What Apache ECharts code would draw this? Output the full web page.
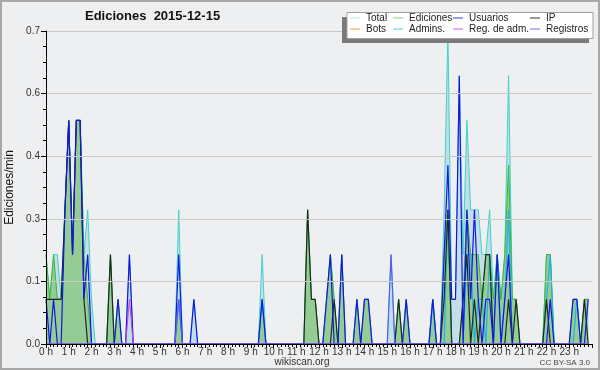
<!DOCTYPE html>
<html>
<head>
<meta charset="utf-8">
<script src="https://cdn.jsdelivr.net/npm/echarts@6/dist/echarts.min.js"></script>
<style>
html,body{margin:0;padding:0;background:#eeeff1;}
#c{width:600px;height:370px;}
</style>
</head>
<body>
<div id="c"></div>
<script>
// 10-minute buckets, 144 per day (edits per minute)
const total = [
 .2,.1,.2,.2,.1,.3,.5,.2,.5,.5,.2,.3,
 .1,0,0,0,0,.2,0,.1,0,0,.2,0,
 0,0,0,0,0,0,0,0,0,0,0,.3,
 0,0,0,.1,0,0,0,0,0,0,0,0,
 0,0,0,0,0,0,0,0,0,.2,0,0,
 0,0,0,0,0,0,0,0,0,.3,.1,.1,
 0,0,.1,.2,.1,0,.2,0,0,0,.1,0,
 .1,.1,0,0,0,0,0,.2,0,.1,0,.1,
 0,0,0,0,0,0,.1,0,0,.3,.7,.1,
 .1,.6,.2,.5,.3,.3,.3,.2,.2,.3,.1,.2,
 .1,.2,.6,.1,.1,0,0,0,0,0,0,0,
 .2,.2,0,0,0,0,0,.1,.1,0,.1,.1];
const ediciones = [
 .2,.1,.2,.1,.1,.3,.5,.2,.5,.5,.2,.1,
 0,0,0,0,0,.2,0,.1,0,0,0,0,
 0,0,0,0,0,0,0,0,0,0,0,.1,
 0,0,0,0,0,0,0,0,0,0,0,0,
 0,0,0,0,0,0,0,0,0,.1,0,0,
 0,0,0,0,0,0,0,0,0,.3,.1,.1,
 0,0,.1,.2,.1,0,.2,0,0,0,.1,0,
 .1,.1,0,0,0,0,0,0,0,.1,0,.1,
 0,0,0,0,0,0,.1,0,0,.2,.3,0,
 0,0,.1,.3,.2,.2,.2,.1,.2,.2,.1,.2,
 .1,.2,.4,.1,.1,0,0,0,0,0,0,0,
 .2,.2,0,0,0,0,0,.1,.1,0,.1,.1];
const usuarios = [
 .1,0,.1,0,0,.3,.5,.2,.5,.5,.1,.2,
 0,0,0,0,0,0,0,.1,0,0,.2,0,
 0,0,0,0,0,0,0,0,0,0,0,.2,
 0,0,0,.1,0,0,0,0,0,0,0,0,
 0,0,0,0,0,0,0,0,0,.1,0,0,
 0,0,0,0,0,0,0,0,0,0,0,0,
 0,0,.1,.2,0,0,.2,0,0,0,.1,0,
 .1,.1,0,0,0,0,0,0,0,0,0,.1,
 0,0,0,0,0,0,.1,0,0,.2,.4,.1,
 .1,.6,0,.3,.1,.3,.1,0,.1,.1,0,.2,
 0,.1,.2,0,0,0,0,0,0,0,0,0,
 0,.1,0,0,0,0,0,.1,.1,0,0,.1];
const ip = [
 .1,.1,.1,.1,.1,.3,.5,.2,.5,.5,.1,0,
 0,0,0,0,0,.2,0,0,0,0,0,0,
 0,0,0,0,0,0,0,0,0,0,0,0,
 0,0,0,0,0,0,0,0,0,0,0,0,
 0,0,0,0,0,0,0,0,0,0,0,0,
 0,0,0,0,0,0,0,0,0,.3,.1,.1,
 0,0,0,0,.1,0,0,0,0,0,0,0,
 0,0,0,0,0,0,0,0,0,.1,0,0,
 0,0,0,0,0,0,0,0,0,.1,.3,0,
 0,0,.1,.2,0,.1,0,.1,.2,.2,0,0,
 0,0,.1,0,.1,0,0,0,0,0,0,0,
 .1,0,0,0,0,0,0,0,0,0,.1,0];
const bots = new Array(144).fill(0);
const admins = [
 0,0,0,0,0,0,0,0,0,0,0,0,
 0,0,0,0,0,0,0,0,0,0,0,0,
 0,0,0,0,0,0,0,0,0,0,0,.1,
 0,0,0,0,0,0,0,0,0,0,0,0,
 0,0,0,0,0,0,0,0,0,.1,0,0,
 0,0,0,0,0,0,0,0,0,0,0,0,
 0,0,0,0,0,0,0,0,0,0,0,0,
 0,0,0,0,0,0,0,0,0,0,0,0,
 0,0,0,0,0,0,.1,0,0,0,.3,0,
 0,0,0,.2,.2,0,.1,.1,0,.2,0,.2,
 0,.1,.3,0,0,0,0,0,0,0,0,0,
 .1,.2,0,0,0,0,0,0,.1,0,0,0];
const regAdm = [
 0,0,0,0,0,0,0,0,0,0,0,0,
 0,0,0,0,0,0,0,0,0,0,.1,0,
 0,0,0,0,0,0,0,0,0,0,0,0,
 0,0,0,0,0,0,0,0,0,0,0,0,
 0,0,0,0,0,0,0,0,0,0,0,0,
 0,0,0,0,0,0,0,0,0,0,0,0,
 0,0,0,0,0,0,0,0,0,0,0,0,
 0,0,0,0,0,0,0,0,0,0,0,0,
 0,0,0,0,0,0,0,0,0,0,0,0,
 0,0,0,0,0,0,0,0,0,0,0,0,
 0,0,0,0,0,0,0,0,0,0,0,0,
 0,0,0,0,0,0,0,0,0,0,0,0];
const registros = [
 0,0,0,0,0,0,0,0,0,0,0,0,
 0,0,0,0,0,0,0,0,0,0,0,0,
 0,0,0,0,0,0,0,0,0,0,0,.1,
 0,0,0,0,0,0,0,0,0,0,0,0,
 0,0,0,0,0,0,0,0,0,0,0,0,
 0,0,0,0,0,0,0,0,0,0,0,0,
 0,0,0,0,0,0,0,0,0,0,0,0,
 0,0,0,0,0,0,0,.2,0,0,0,0,
 0,0,0,0,0,0,0,0,0,0,0,0,
 0,0,0,0,0,0,0,0,0,0,0,0,
 0,0,0,0,0,0,0,0,0,0,0,0,
 0,0,0,0,0,0,0,0,0,0,0,0];
const hourLabels = ['0 h','1 h','2 h','3 h','4 h','5 h','6 h','7 h','8 h','9 h','10 h','11 h','12 h','13 h','14 h','15 h','16 h','17 h','18 h','19 h','20 h','21 h','22 h','23 h'];
const legendNames = ['Total','Ediciones','Usuarios','IP','Bots','Admins.','Reg. de adm.','Registros'];
const yTickLabels = ['0.0','0.1','0.3','0.4','0.6','0.7'];

const FONT = 'Liberation Sans, Arial, sans-serif';
const pts = arr => arr.map((v, i) => [i / 6, v]);

const legendColors = ['#a8ecec','#7fd87f','#3a3ae8','#333333','#f0a030','#40d0e0','#d050e0','#7070f0'];
const legendPos = [[350,13],[393,13],[453,13],[530,13],[350,24],[393,24],[453,24],[530,24]];

const legends = legendNames.map((n, k) => ({
  data: [{name: n, icon: 'path://M0,0H10V1H0Z'}],
  left: legendPos[k][0], top: legendPos[k][1],
  itemWidth: 10, itemHeight: 1, itemGap: 0, padding: 0,
  selectedMode: false,
  itemStyle: {color: legendColors[k], borderWidth: 0},
  lineStyle: {color: legendColors[k], width: 1},
  textStyle: {fontFamily: FONT, fontSize: 10, color: '#222', padding: [0,0,0,1]},
  z: 20
}));

function lineSeries(name, data, color, width, z, area) {
  const s = {
    name, type: 'line', data: pts(data), showSymbol: false, symbol: 'none',
    lineStyle: {color, width}, itemStyle: {color}, z, animation: false
  };
  if (area) s.areaStyle = {color: area, opacity: 1};
  return s;
}

const chart = echarts.init(document.getElementById('c'), null, {renderer: 'canvas'});
chart.setOption({
  backgroundColor: '#eeeff1',
  animation: false,
  textStyle: {fontFamily: FONT},
  grid: {left: 46, right: 8, top: 31, bottom: 26, containLabel: false, outerBoundsMode: 'none'},
  legend: legends,
  xAxis: {
    type: 'value', min: 0, max: 24, interval: 1, z: 10,
    axisLine: {lineStyle: {color: '#000', width: 1}},
    axisTick: {length: 4, lineStyle: {color: '#000'}},
    minorTick: {show: true, splitNumber: 6, length: 3, lineStyle: {color: '#000'}},
    splitLine: {show: false},
    axisLabel: {fontFamily: FONT, fontSize: 10, color: '#333', margin: 3,
      formatter: v => (v < 24 ? hourLabels[v] : '')}
  },
  yAxis: {
    type: 'value', min: 0, max: 0.7, interval: 0.14, z: 10,
    name: 'Ediciones/min', nameLocation: 'middle', nameGap: 27, nameRotate: 90,
    nameTextStyle: {fontFamily: FONT, fontSize: 12, color: '#111'},
    axisLine: {show: true, lineStyle: {color: '#000', width: 1}},
    axisTick: {show: true, length: 5, lineStyle: {color: '#000'}},
    minorTick: {show: true, splitNumber: 4, length: 3, lineStyle: {color: '#000'}},
    splitLine: {show: true, lineStyle: {color: '#c8c8c8', width: 1}},
    axisLabel: {fontFamily: FONT, fontSize: 10, color: '#333', margin: 6,
      formatter: (v) => yTickLabels[Math.round(v / 0.14)]}
  },
  graphic: [
    {type: 'rect', shape: {x: 1, y: 1, width: 598, height: 368}, style: {fill: 'none', stroke: '#a8a8a8', lineWidth: 2}, z: 0, silent: true},
    {type: 'rect', shape: {x: 342, y: 17, width: 247, height: 26}, style: {fill: '#7a7a7a'}, z: 15, silent: true},
    {type: 'rect', shape: {x: 347, y: 12.5, width: 246, height: 26}, style: {fill: '#ffffff', stroke: '#a0a0a0', lineWidth: 1}, z: 16, silent: true},
    {type: 'text', left: 85, top: 10, style: {text: 'Ediciones  2015-12-15', font: 'bold 13px ' + FONT, fill: '#111'}, z: 20},
    {type: 'text', x: 302, y: 357, style: {text: 'wikiscan.org', font: '10px ' + FONT, fill: '#333', textAlign: 'center'}, z: 20},
    {type: 'text', x: 590, y: 359, style: {text: 'CC BY-SA 3.0', font: '8px ' + FONT, fill: '#444', textAlign: 'right'}, z: 20}
  ],
  series: [
    lineSeries('Total', total, '#3fd3c6', 1, 2, '#c4dee9'),
    lineSeries('Ediciones', ediciones, '#3cb43c', 1, 3, '#95cb95'),
    lineSeries('Bots', bots, '#f0a030', 1, 4),
    lineSeries('Admins.', admins, '#1fb2e2', 1.2, 5),
    lineSeries('IP', ip, '#1c2a1c', 1.2, 6),
    lineSeries('Usuarios', usuarios, '#1414e6', 1.2, 7),
    lineSeries('Reg. de adm.', regAdm, '#d040d8', 1, 8),
    lineSeries('Registros', registros, '#5a5af0', 1.2, 9)
  ]
});
</script>
</body>
</html>
